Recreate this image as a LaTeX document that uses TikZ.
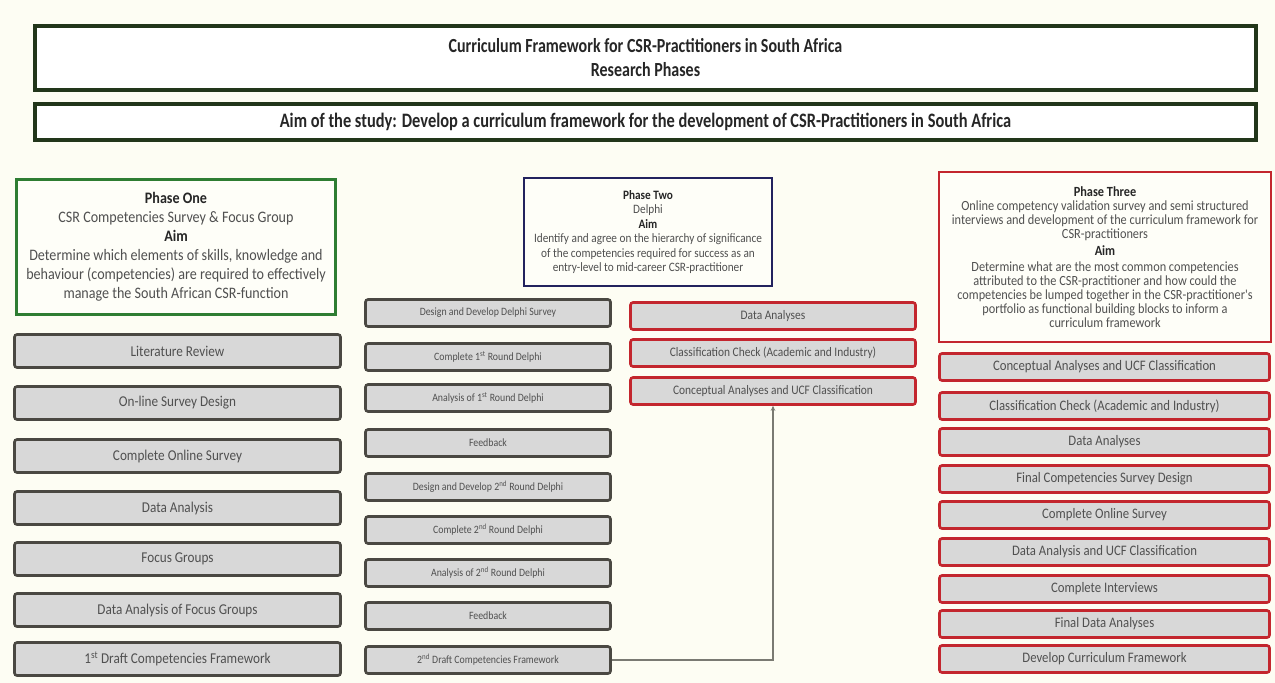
\documentclass[tikz,border=0pt]{standalone}
\usepackage{fontspec}
\setmainfont{Carlito}
\newfontfamily\bodyfont[FakeStretch=0.88]{Carlito}
\newfontfamily\headfont[FakeStretch=0.8]{Carlito}
\usetikzlibrary{arrows.meta}

\definecolor{bgcream}{HTML}{FDFDF3}
\definecolor{frameolive}{HTML}{22361A}
\definecolor{phgreen}{HTML}{2E7D32}
\definecolor{phnavy}{HTML}{22225E}
\definecolor{phred}{HTML}{C3262E}
\definecolor{boxedge}{HTML}{4A4842}
\definecolor{boxfill}{HTML}{D8D8D8}
\definecolor{boxtext}{HTML}{505050}
\definecolor{headtext}{HTML}{262626}
\definecolor{connline}{HTML}{7A7A72}

\tikzset{
  framebox/.style={draw=frameolive, line width=4.2pt, fill=white, align=center,
    inner sep=0pt, text=headtext},
  phasebox/.style={line width=2.2pt, fill=bgcream!60!white, align=center,
    inner sep=0pt, text=boxtext},
  graystep/.style={draw=boxedge, fill=boxfill, line width=2.6pt, rounded corners=2.5pt,
    inner sep=0pt, text=boxtext},
  redstep/.style={draw=phred, fill=boxfill, line width=2.6pt, rounded corners=2.5pt,
    inner sep=0pt, text=boxtext},
  leftstep/.style={graystep, minimum width=326pt, minimum height=33pt,
    font=\bodyfont\fontsize{15}{17}\selectfont},
  midstep/.style={graystep, minimum width=245pt, minimum height=27pt,
    font=\bodyfont\fontsize{11.2}{13}\selectfont},
  midred/.style={redstep, minimum width=285pt, minimum height=27pt,
    font=\bodyfont\fontsize{13}{15}\selectfont},
  rightstep/.style={redstep, minimum width=330pt, minimum height=27pt,
    font=\bodyfont\fontsize{14.5}{16}\selectfont},
  conn/.style={draw=connline, line width=1.4pt, -{Stealth[length=5pt,width=4.5pt]}},
}

\newcommand{\hd}[1]{{\color{headtext}\bfseries #1}}

\begin{document}
\begin{tikzpicture}[x=1pt,y=-1pt]
  \useasboundingbox (0,0) rectangle (1275,683);
  \fill[bgcream] (0,0) rectangle (1275,683);

  % title frames
  \node[framebox, minimum width=1221pt, minimum height=64pt,
        font=\headfont\bfseries\fontsize{20}{24}\selectfont] (title) at (645.5,58)
    {Curriculum Framework for CSR-Practitioners in South Africa\\Research Phases};
  \node[framebox, minimum width=1221pt, minimum height=36pt,
        font=\headfont\bfseries\fontsize{20.5}{22}\selectfont] (aim) at (645.5,122)
    {Aim of the study: Develop a curriculum framework for the development of CSR-Practitioners in South Africa};

  % phase headers
  \node[phasebox, draw=phgreen, minimum width=319pt, minimum height=135pt,
        font=\bodyfont\fontsize{16}{19}\selectfont] (p1) at (176,247)
    {\hd{Phase One}\\CSR Competencies Survey \& Focus Group\\\hd{Aim}\\
     Determine which elements of skills, knowledge and\\
     behaviour (competencies) are required to effectively\\
     manage the South African CSR-function};
  \node[phasebox, draw=phnavy, minimum width=248pt, minimum height=108pt,
        font=\bodyfont\fontsize{12.8}{14.5}\selectfont] (p2) at (648,232)
    {\hd{Phase Two}\\Delphi\\\hd{Aim}\\
     Identify and agree on the hierarchy of significance\\
     of the competencies required for success as an\\
     entry-level to mid-career CSR-practitioner};
  \node[phasebox, draw=phred, minimum width=332pt, minimum height=170pt,
        font=\bodyfont\fontsize{14}{14}\selectfont] (p3) at (1105,257)
    {\hd{Phase Three}\\Online competency validation survey and semi structured\\
     interviews and development of the curriculum framework for\\
     CSR-practitioners\\[3pt]\hd{Aim}\\[2pt]
     Determine what are the most common competencies\\
     attributed to the CSR-practitioner and how could the\\
     competencies be lumped together in the CSR-practitioner's\\
     portfolio as functional building blocks to inform a\\
     curriculum framework};

  % phase one steps
  \node[leftstep] (l1) at (177.5,351) {Literature Review};
  \node[leftstep] (l2) at (177.5,403) {On-line Survey Design};
  \node[leftstep] (l3) at (177.5,456) {Complete Online Survey};
  \node[leftstep] (l4) at (177.5,508) {Data Analysis};
  \node[leftstep] (l5) at (177.5,559) {Focus Groups};
  \node[leftstep] (l6) at (177.5,610) {Data Analysis of Focus Groups};
  \node[leftstep] (l7) at (177.5,659) {1\textsuperscript{st} Draft Competencies Framework};

  % phase two steps
  \node[midstep] (m1) at (488,313) {Design and Develop Delphi Survey};
  \node[midstep] (m2) at (488,357) {Complete 1\textsuperscript{st} Round Delphi};
  \node[midstep] (m3) at (488,398) {Analysis of 1\textsuperscript{st} Round Delphi};
  \node[midstep] (m4) at (488,443) {Feedback};
  \node[midstep] (m5) at (488,487) {Design and Develop 2\textsuperscript{nd} Round Delphi};
  \node[midstep] (m6) at (488,530) {Complete 2\textsuperscript{nd} Round Delphi};
  \node[midstep] (m7) at (488,573) {Analysis of 2\textsuperscript{nd} Round Delphi};
  \node[midstep] (m8) at (488,616) {Feedback};
  \node[midstep] (draft2) at (488,660) {2\textsuperscript{nd} Draft Competencies Framework};

  \node[midred] (r1) at (773,316) {Data Analyses};
  \node[midred] (r2) at (773,353) {Classification Check (Academic and Industry)};
  \node[midred] (concept) at (773,391) {Conceptual Analyses and UCF Classification};

  % phase three steps
  \node[rightstep] (t1) at (1104.5,367) {Conceptual Analyses and UCF Classification};
  \node[rightstep] (t2) at (1104.5,406) {Classification Check (Academic and Industry)};
  \node[rightstep] (t3) at (1104.5,442) {Data Analyses};
  \node[rightstep] (t4) at (1104.5,479) {Final Competencies Survey Design};
  \node[rightstep] (t5) at (1104.5,515) {Complete Online Survey};
  \node[rightstep] (t6) at (1104.5,552) {Data Analysis and UCF Classification};
  \node[rightstep] (t7) at (1104.5,589) {Complete Interviews};
  \node[rightstep] (t8) at (1104.5,624) {Final Data Analyses};
  \node[rightstep] (t9) at (1104.5,659) {Develop Curriculum Framework};

  % feedback loop from the second draft back to the conceptual analysis
  \draw[conn] (draft2.east) -| (concept.south);
\end{tikzpicture}
\end{document}
